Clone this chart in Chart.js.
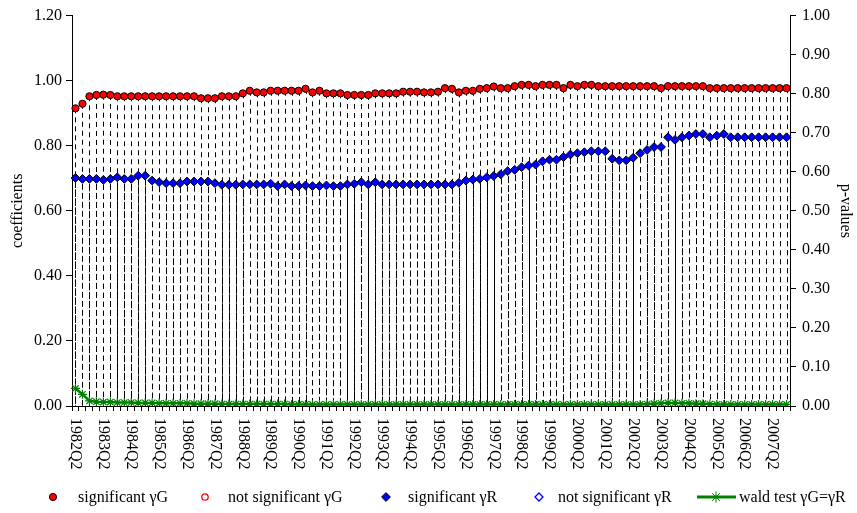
<!DOCTYPE html>
<html>
<head>
<meta charset="utf-8">
<script src="https://cdn.jsdelivr.net/npm/chart.js@4.4.0/dist/chart.umd.min.js"></script>
<style>
  body { margin: 0; background: #fff; }
  #wrap { width: 857px; height: 513px; }
</style>
</head>
<body>
<div id="wrap"><canvas id="chart"></canvas></div>
<script>
// quarters on the x axis
const quarters = [
  "1982Q2","1982Q3","1982Q4",
  "1983Q1","1983Q2","1983Q3","1983Q4","1984Q1","1984Q2","1984Q3","1984Q4",
  "1985Q1","1985Q2","1985Q3","1985Q4","1986Q1","1986Q2","1986Q3","1986Q4",
  "1987Q1","1987Q2","1987Q3","1987Q4","1988Q1","1988Q2","1988Q3","1988Q4",
  "1989Q1","1989Q2","1989Q3","1989Q4","1990Q1","1990Q2","1990Q3","1990Q4",
  "1991Q1","1991Q2","1991Q3","1991Q4","1992Q1","1992Q2","1992Q3","1992Q4",
  "1993Q1","1993Q2","1993Q3","1993Q4","1994Q1","1994Q2","1994Q3","1994Q4",
  "1995Q1","1995Q2","1995Q3","1995Q4","1996Q1","1996Q2","1996Q3","1996Q4",
  "1997Q1","1997Q2","1997Q3","1997Q4","1998Q1","1998Q2","1998Q3","1998Q4",
  "1999Q1","1999Q2","1999Q3","1999Q4","2000Q1","2000Q2","2000Q3","2000Q4",
  "2001Q1","2001Q2","2001Q3","2001Q4","2002Q1","2002Q2","2002Q3","2002Q4",
  "2003Q1","2003Q2","2003Q3","2003Q4","2004Q1","2004Q2","2004Q3","2004Q4",
  "2005Q1","2005Q2","2005Q3","2005Q4","2006Q1","2006Q2","2006Q3","2006Q4",
  "2007Q1","2007Q2","2007Q3","2007Q4"
];

// gamma G coefficients (all significant)
const sigG = [
  0.915,0.929,0.952,0.956,0.957,0.956,0.952,0.952,0.952,0.952,
  0.952,0.952,0.952,0.952,0.952,0.952,0.952,0.952,0.946,0.946,
  0.946,0.952,0.952,0.952,0.961,0.969,0.964,0.964,0.969,0.969,
  0.969,0.969,0.969,0.975,0.964,0.969,0.961,0.961,0.961,0.956,
  0.956,0.956,0.956,0.961,0.961,0.961,0.961,0.966,0.966,0.966,
  0.964,0.964,0.966,0.977,0.975,0.964,0.969,0.969,0.975,0.977,
  0.982,0.977,0.977,0.983,0.987,0.987,0.983,0.987,0.987,0.987,
  0.977,0.987,0.983,0.987,0.987,0.983,0.983,0.983,0.983,0.983,
  0.983,0.983,0.983,0.983,0.977,0.983,0.983,0.983,0.983,0.983,
  0.983,0.977,0.977,0.977,0.977,0.977,0.977,0.977,0.977,0.977,
  0.977,0.977,0.977
];

// gamma R coefficients (all significant)
const sigR = [
  0.701,0.698,0.698,0.698,0.695,0.698,0.703,0.698,0.698,0.708,
  0.708,0.693,0.688,0.685,0.685,0.685,0.690,0.690,0.690,0.690,
  0.685,0.680,0.680,0.680,0.681,0.681,0.681,0.681,0.683,0.676,
  0.681,0.676,0.676,0.678,0.676,0.676,0.678,0.676,0.676,0.681,
  0.683,0.688,0.681,0.688,0.681,0.681,0.681,0.681,0.681,0.681,
  0.681,0.681,0.681,0.681,0.681,0.686,0.693,0.696,0.698,0.703,
  0.707,0.712,0.722,0.726,0.734,0.739,0.742,0.752,0.757,0.757,
  0.765,0.773,0.777,0.780,0.783,0.783,0.783,0.760,0.755,0.755,
  0.763,0.777,0.787,0.796,0.796,0.826,0.818,0.826,0.831,0.836,
  0.836,0.826,0.831,0.836,0.826,0.826,0.826,0.826,0.826,0.826,
  0.826,0.826,0.826
];

// no insignificant estimates in the sample
const nsigG = quarters.map(() => null);
const nsigR = quarters.map(() => null);

// p-values of the wald test gammaG = gammaR
const waldP = [
  0.045,0.030,0.013,0.011,0.010,0.010,0.009,0.009,0.009,0.008,
  0.008,0.008,0.007,0.007,0.007,0.007,0.007,0.006,0.006,0.006,
  0.006,0.005,0.005,0.005,0.005,0.005,0.005,0.005,0.005,0.005,
  0.005,0.004,0.004,0.004,0.004,0.004,0.004,0.004,0.004,0.004,
  0.004,0.004,0.004,0.004,0.004,0.004,0.004,0.004,0.004,0.004,
  0.004,0.004,0.004,0.004,0.004,0.004,0.004,0.004,0.004,0.004,
  0.004,0.004,0.004,0.004,0.004,0.004,0.004,0.004,0.004,0.004,
  0.004,0.004,0.004,0.004,0.004,0.004,0.004,0.004,0.004,0.004,
  0.004,0.004,0.005,0.006,0.007,0.008,0.008,0.007,0.007,0.006,
  0.006,0.005,0.004,0.004,0.004,0.004,0.004,0.004,0.004,0.004,
  0.004,0.004,0.004
];

const FONT = "'Liberation Serif', 'Times New Roman', serif";

// dashed drop lines from each marker to the axis
const dropLines = {
  id: "dropLines",
  beforeDatasetsDraw(chart) {
    const ctx = chart.ctx;
    const base = chart.scales.y.getPixelForValue(0);
    ctx.save();
    ctx.strokeStyle = "#000";
    ctx.lineWidth = 1;
    ctx.setLineDash([5, 4]);
    [0, 2].forEach((di, k) => {
      ctx.lineDashOffset = k * 4;
      chart.getDatasetMeta(di).data.forEach((pt) => {
        if (pt.skip) return;
        const x = Math.round(pt.x) + 0.5;
        ctx.beginPath();
        ctx.moveTo(x, pt.y);
        ctx.lineTo(x, base);
        ctx.stroke();
      });
    });
    ctx.restore();
  }
};

// x labels rotated clockwise, one per year
const xLabels = {
  id: "xLabels",
  afterDraw(chart) {
    const ctx = chart.ctx;
    const sx = chart.scales.x;
    ctx.save();
    ctx.font = "16px " + FONT;
    ctx.fillStyle = "#000";
    ctx.textAlign = "left";
    ctx.textBaseline = "middle";
    quarters.forEach((q, i) => {
      if (i % 4) return;
      ctx.save();
      ctx.translate(sx.getPixelForValue(i), sx.bottom + 7);
      ctx.rotate(Math.PI / 2);
      ctx.fillText(q, 0, 0);
      ctx.restore();
    });
    ctx.restore();
  }
};

// legend row under the chart
const legendRow = {
  id: "legendRow",
  afterDraw(chart) {
    const ctx = chart.ctx;
    const y = 497;
    const slots = [
      { ds: 0, x: 53, tx: 78 },
      { ds: 1, x: 205, tx: 228 },
      { ds: 2, x: 386, tx: 408 },
      { ds: 3, x: 539, tx: 558 },
      { ds: 4, x: 716, tx: 739, line: [697, 736] }
    ];
    ctx.save();
    slots.forEach((s) => {
      const d = chart.data.datasets[s.ds];
      const isLine = !!s.line;
      if (isLine) {
        ctx.strokeStyle = d.borderColor;
        ctx.lineWidth = 3;
        ctx.beginPath();
        ctx.moveTo(s.line[0], y);
        ctx.lineTo(s.line[1], y);
        ctx.stroke();
      }
      ctx.fillStyle = d.pointBackgroundColor;
      ctx.strokeStyle = d.pointBorderColor;
      ctx.lineWidth = isLine ? 1 : d.pointBorderWidth;
      Chart.helpers.drawPoint(ctx, {
        pointStyle: d.pointStyle,
        radius: isLine ? 5.5 : d.pointRadius,
        rotation: 0,
        borderWidth: isLine ? 1 : d.pointBorderWidth
      }, s.x, y);
      ctx.fillStyle = "#000";
      ctx.font = "16px " + FONT;
      ctx.textAlign = "left";
      ctx.textBaseline = "middle";
      ctx.fillText(d.label, s.tx, y + 1);
    });
    ctx.restore();
  }
};

new Chart(document.getElementById("chart"), {
  type: "line",
  data: {
    labels: quarters,
    datasets: [
      {
        label: "significant \u03B3G",
        data: sigG,
        yAxisID: "y",
        showLine: false,
        pointStyle: "circle",
        pointRadius: 3.6,
        pointBackgroundColor: "#ff0000",
        pointBorderColor: "#000",
        pointBorderWidth: 1,
        borderColor: "#ff0000"
      },
      {
        label: "not significant \u03B3G",
        data: nsigG,
        yAxisID: "y",
        showLine: false,
        pointStyle: "circle",
        pointRadius: 3.2,
        pointBackgroundColor: "#fff",
        pointBorderColor: "#ff0000",
        pointBorderWidth: 1.3,
        borderColor: "#ff0000"
      },
      {
        label: "significant \u03B3R",
        data: sigR,
        yAxisID: "y",
        showLine: false,
        pointStyle: "rectRot",
        pointRadius: 4.4,
        pointBackgroundColor: "#0000ff",
        pointBorderColor: "#000",
        pointBorderWidth: 1,
        borderColor: "#0000ff"
      },
      {
        label: "not significant \u03B3R",
        data: nsigR,
        yAxisID: "y",
        showLine: false,
        pointStyle: "rectRot",
        pointRadius: 4,
        pointBackgroundColor: "#fff",
        pointBorderColor: "#0000ff",
        pointBorderWidth: 1.3,
        borderColor: "#0000ff"
      },
      {
        label: "wald test \u03B3G=\u03B3R",
        data: waldP,
        yAxisID: "y1",
        borderColor: "#008000",
        borderWidth: 2.5,
        pointStyle: "star",
        pointRadius: 4.5,
        pointBackgroundColor: "#008000",
        pointBorderColor: "#008000",
        pointBorderWidth: 1.2,
        tension: 0
      }
    ]
  },
  options: {
    responsive: true,
    maintainAspectRatio: false,
    animation: false,
    layout: { padding: { top: 15, bottom: 102, left: 0, right: 0 } },
    plugins: {
      legend: { display: false },
      tooltip: { enabled: false }
    },
    scales: {
      x: {
        type: "category",
        offset: true,
        grid: { offset: true, drawOnChartArea: false, tickLength: 5, color: "#000" },
        border: { color: "#000", width: 1 },
        ticks: { display: false, autoSkip: false }
      },
      y: {
        position: "left",
        min: 0,
        max: 1.2,
        afterFit: (s) => { s.width = 72; },
        ticks: {
          stepSize: 0.2,
          padding: 4,
          color: "#000",
          font: { family: FONT, size: 16 },
          callback: (v) => v.toFixed(2)
        },
        grid: { drawOnChartArea: false, tickLength: 6, color: "#000" },
        border: { color: "#000", width: 1 },
        title: {
          display: true,
          text: "coefficients",
          color: "#000",
          font: { family: FONT, size: 16 },
          padding: { top: 8, bottom: 0 }
        }
      },
      y1: {
        position: "right",
        min: 0,
        max: 1,
        afterFit: (s) => { s.width = 67; },
        ticks: {
          stepSize: 0.1,
          padding: 6,
          color: "#000",
          font: { family: FONT, size: 16 },
          callback: (v) => v.toFixed(2)
        },
        grid: { drawOnChartArea: false, tickLength: 6, color: "#000" },
        border: { color: "#000", width: 1 },
        title: {
          display: true,
          text: "p-values",
          color: "#000",
          font: { family: FONT, size: 16 },
          padding: { top: 2, bottom: 0 }
        }
      }
    }
  },
  plugins: [dropLines, xLabels, legendRow]
});
</script>
</body>
</html>
